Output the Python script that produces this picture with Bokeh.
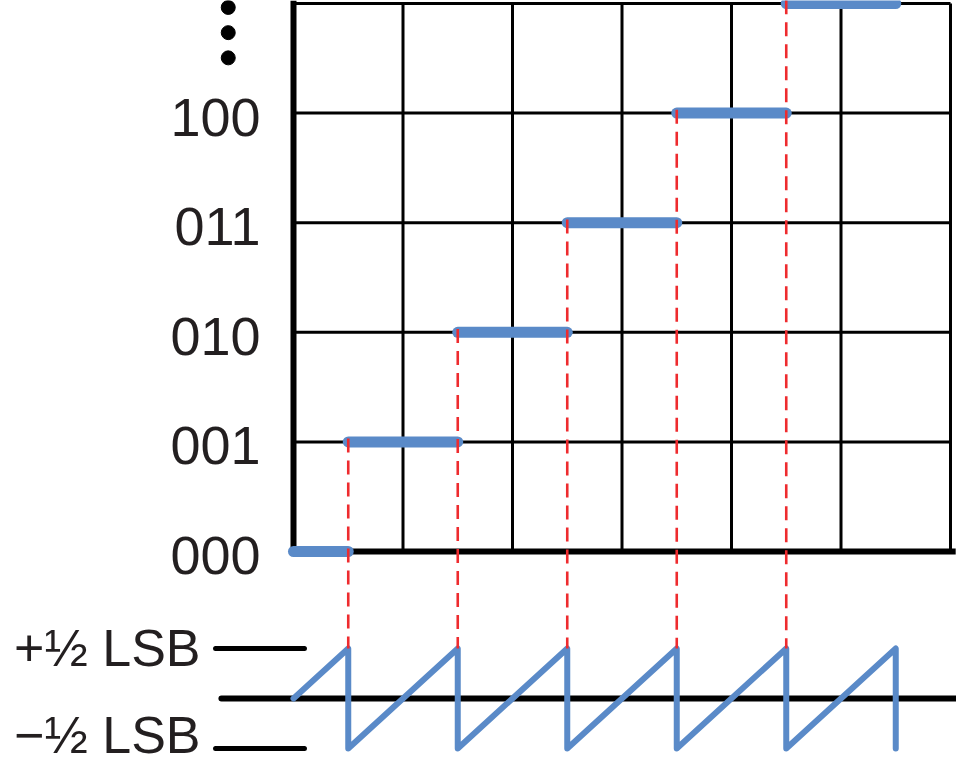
from bokeh.plotting import figure
from bokeh.models import Range1d
from bokeh.core.properties import value
from bokeh.embed import file_html
from bokeh.resources import INLINE

# ---- data ----
codes = ["000", "001", "010", "011", "100"]
code_levels = [0, 1, 2, 3, 4]
step_levels = [0, 1, 2, 3, 4, 5]
step_start = [0.0, 0.5, 1.5, 2.5, 3.5, 4.5]
step_end = [0.5, 1.5, 2.5, 3.5, 4.5, 5.5]
transitions = [0.5, 1.5, 2.5, 3.5, 4.5, 5.5]
# quantization error (in LSB) along the analog input
saw_x = [0.0, 0.5, 0.5, 1.5, 1.5, 2.5, 2.5, 3.5, 3.5, 4.5, 4.5, 5.5, 5.5]
saw_err = [0.0, 0.5, -0.5, 0.5, -0.5, 0.5, -0.5, 0.5, -0.5, 0.5, -0.5, 0.5, -0.5]
err_labels = ["+\u00bd LSB", "\u2212\u00bd LSB"]
err_levels = [0.5, -0.5]
grid_cols = [0, 1, 2, 3, 4, 5, 6]
grid_rows = [0, 1, 2, 3, 4, 5]

# ---- layout ----
W, H = 956, 768
PXX, PXY = 109.5, 109.6
OX, OY = 293.0, 551.0
ERR_ZERO, ERR_SCALE = -1.341, 0.912

BLUE = "#5A8AC8"
RED = "#EE2B2E"
FONT = value("Liberation Sans")

p = figure(width=W, height=H,
           x_range=Range1d(-OX / PXX, (W - OX) / PXX),
           y_range=Range1d((OY - H) / PXY, OY / PXY),
           output_backend="svg", toolbar_location=None,
           x_axis_location=None, y_axis_location=None,
           min_border=0, outline_line_color=None,
           background_fill_color="white", border_fill_color="white")
p.grid.visible = False

xmax = grid_cols[-1]
ymax = grid_rows[-1]

# thin grid lines
inner_cols = grid_cols[1:]
p.segment(x0=inner_cols, y0=[0] * len(inner_cols), x1=inner_cols, y1=[ymax] * len(inner_cols),
          line_color="black", line_width=3)
inner_rows = grid_rows[1:]
p.segment(x0=[0] * len(inner_rows), y0=inner_rows, x1=[xmax] * len(inner_rows), y1=inner_rows,
          line_color="black", line_width=3)
# thick axes
p.segment(x0=[0, 0], y0=[0, 0], x1=[0, xmax + 0.02], y1=[ymax, 0],
          line_color="black", line_width=6, line_cap="square")

# error axis lines
err_y = [ERR_ZERO + e * ERR_SCALE for e in saw_err]
zero_y = ERR_ZERO
p.segment(x0=[-0.658], y0=[zero_y], x1=[6.2], y1=[zero_y],
          line_color="black", line_width=6, line_cap="round")
lvl_y = [ERR_ZERO + e * ERR_SCALE for e in err_levels]
p.segment(x0=[-0.712] * 2, y0=lvl_y, x1=[0.10] * 2, y1=lvl_y,
          line_color="black", line_width=5, line_cap="round")

# sawtooth
p.line(saw_x, err_y, line_color=BLUE, line_width=6, line_join="round", line_cap="round")

# steps
p.segment(x0=step_start, y0=step_levels, x1=step_end, y1=step_levels,
          line_color=BLUE, line_width=11, line_cap="round")

# red dashed transitions
peak_y = ERR_ZERO + 0.5 * ERR_SCALE
p.segment(x0=transitions, y0=[l + 0.03 for l in step_levels[1:]],
          x1=transitions, y1=[peak_y] * len(transitions),
          line_color=RED, line_width=2.6, line_dash="14 8")

# code labels
p.text(x=[-0.30] * len(codes), y=code_levels, text=codes, y_offset=4,
       text_font=FONT, text_font_size=value("54px"), text_color="#231F20",
       text_align="right", text_baseline="middle")

# error labels
p.text(x=[-0.849] * 2, y=lvl_y, text=err_labels, y_offset=[0, -13],
       text_font=FONT, text_font_size=value("52px"), text_color="#231F20",
       text_align="right", text_baseline="middle")

# vertical ellipsis dots
dot_y = [ymax - 0.036 - 0.23 * i for i in range(3)]
p.scatter(x=[-0.596] * 3, y=dot_y, size=14, color="black")

open("out.html", "w").write(file_html(p, INLINE))
